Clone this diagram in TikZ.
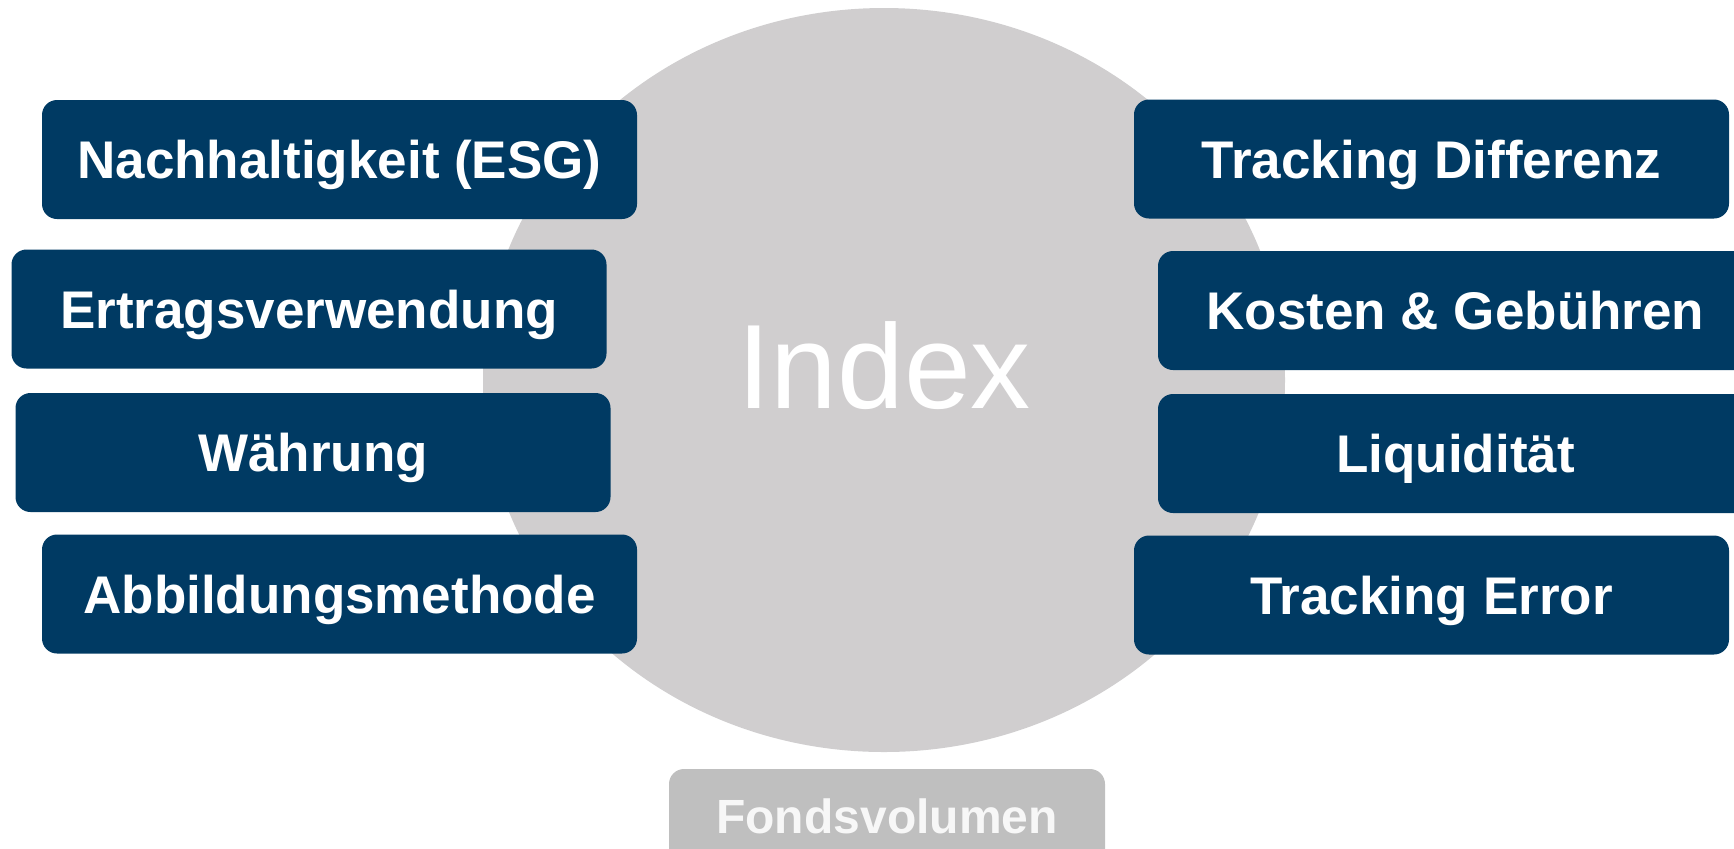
\documentclass[tikz,border=0pt]{standalone}
\usepackage{fontspec}
\setmainfont{Liberation Sans}
\definecolor{navy}{HTML}{003A63}
\definecolor{disc}{HTML}{D0CECF}
\definecolor{fondsgray}{HTML}{BFBFBF}
\definecolor{fondstext}{HTML}{F7F7F7}
\begin{document}
\begin{tikzpicture}[x=0.5pt,y=-0.5pt,
  item/.style={fill=navy, rounded corners=7.5pt, minimum width=297.5pt,
    minimum height=59.5pt, inner sep=0pt, text=white,
    font=\fontsize{26.5}{30}\selectfont\bfseries, text height=19pt, text depth=0pt},
  fonds/.style={item, fill=fondsgray, text=fondstext, minimum width=218pt,
    font=\fontsize{24}{28}\selectfont\bfseries, text height=17.2pt, text depth=12.5pt},
  bigtext/.style={text=white, font=\fontsize{60}{62}\selectfont,
    text height=43pt, text depth=0pt, inner sep=0pt}]
\useasboundingbox (0,0) rectangle (1734,848);
\fill[disc] (884,380) ellipse [x radius=200.5pt, y radius=186pt];
\node[bigtext] (idx) at (884,365.5) {Index};
\node[item] (esg)  at (339.5,159.5) {Nachhaltigkeit (ESG)};
\node[item] (ertr) at (309,309)     {Ertragsverwendung};
\node[item] (waeh) at (313,452.5)   {Währung};
\node[item] (abb)  at (339.5,594)   {Abbildungsmethode};
\node[item] (td)   at (1431.5,159)  {Tracking Differenz};
\node[item] (kost) at (1455.5,310.5){Kosten \& Gebühren};
\node[item] (liq)  at (1455.5,453.5){Liquidität};
\node[item] (te)   at (1431.5,595)  {Tracking Error};
\node[fonds] (fv)  at (887,828.5)   {Fondsvolumen};
\end{tikzpicture}
\end{document}
